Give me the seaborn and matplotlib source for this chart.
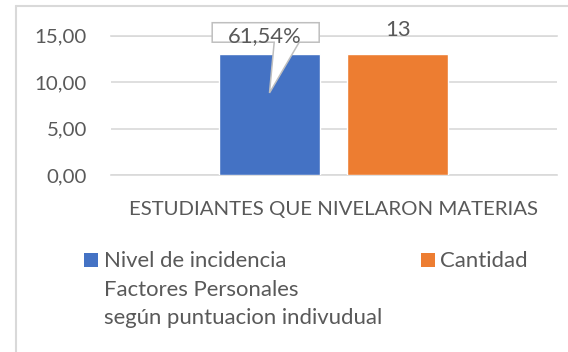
import matplotlib
matplotlib.use("Agg")
import matplotlib.pyplot as plt
import matplotlib.transforms as mtransforms
from matplotlib.patches import Polygon, Rectangle
from matplotlib.lines import Line2D
from matplotlib.ticker import FuncFormatter
import pandas as pd
import seaborn as sns

# ---- datos ----
categorias = ["ESTUDIANTES QUE NIVELARON MATERIAS"]
series = ["Nivel de incidencia\nFactores Personales\nsegún puntuacion indivudual", "Cantidad"]
nivel_incidencia = [13]
cantidad = [13]
porcentaje_nivel = [61.54]
y_ticks = [0, 5, 10, 15]
colores = ["#4472C4", "#ED7D31"]

# ---- estilo ----
sns.set_style("white")
plt.rcParams["font.family"] = ["Lato", "DejaVu Sans"]
TEXTO = "#595959"
GRIS = "#D9D9D9"
FS = 14.7          # ejes
FS_ETIQ = 15.8     # etiquetas de datos
FS_LEY = 15.9      # leyenda

df = pd.DataFrame({
    "categoria": categorias * 2,
    "serie": [series[0]] * len(categorias) + [series[1]] * len(categorias),
    "valor": nivel_incidencia + cantidad,
})

W, H = 568, 352
fig = plt.figure(figsize=(W / 100, H / 100), dpi=100)
ax = fig.add_axes([110.5 / W, 1 - 175 / H, 446 / W, (175 - 35.7) / H])

sns.barplot(data=df, x="categoria", y="valor", hue="serie", hue_order=series,
            palette=colores, saturation=1, width=0.574, gap=0.218,
            errorbar=None, legend=False, ax=ax, zorder=2)

ax.set_xlim(-0.5, 0.5)
ax.set_ylim(y_ticks[0], y_ticks[-1])
ax.set_yticks(y_ticks)
ax.yaxis.set_major_formatter(FuncFormatter(lambda v, p: f"{v:.2f}".replace(".", ",")))
ax.yaxis.grid(True, color=GRIS, lw=1.2)
ax.set_axisbelow(True)
for side in ("left", "right"):
    ax.spines[side].set_visible(False)
for side in ("top", "bottom"):
    ax.spines[side].set_color(GRIS)
    ax.spines[side].set_linewidth(1.2)
    ax.spines[side].set_zorder(1)
ax.set_xlabel("")
ax.set_ylabel("")
ax.tick_params(axis="y", length=0, pad=17, labelsize=FS, labelcolor=TEXTO)
ax.tick_params(axis="x", length=0, pad=19, labelsize=FS, labelcolor=TEXTO)

# etiqueta de valor de la serie "Cantidad"
ax.bar_label(ax.containers[1], labels=[f"{v:g}" for v in cantidad],
             padding=10.2, fontsize=FS_ETIQ, color=TEXTO)

# globo con el porcentaje sobre la serie "Nivel de incidencia"
barra = ax.containers[0].patches[0]
xc = barra.get_x() + barra.get_width() / 2
punta_y = barra.get_height() * 0.68
trans = fig.dpi_scale_trans + mtransforms.ScaledTranslation(xc, punta_y, ax.transData)
px = 1 / fig.dpi
globo = [(0, 0), (29.7, 50.7), (49.7, 50.7), (49.7, 70.2), (-57.3, 70.2),
         (-57.3, 50.7), (4.7, 50.7)]
ax.add_patch(Polygon([(a * px, b * px) for a, b in globo], closed=True,
                     transform=trans, facecolor="white", edgecolor="#BFBFBF",
                     lw=1.1, zorder=5, clip_on=False))
ax.annotate(f"{porcentaje_nivel[0]:.2f}%".replace(".", ","), xy=(xc, punta_y),
            xytext=(-3.1, 36.9), textcoords="offset points", ha="center",
            va="baseline", fontsize=FS_ETIQ, color=TEXTO, zorder=6,
            annotation_clip=False)

# leyenda (una línea de texto por renglón del nombre de la serie)
entradas = [(84, 104.3), (421, 440)]
base_y, paso = 266.7, 28.8
for (xq, xt), nombre, color in zip(entradas, series, colores):
    fig.add_artist(Rectangle((xq / W, 1 - base_y / H), 13.7 / W, 13.7 / H,
                             transform=fig.transFigure, facecolor=color, lw=0))
    for i, linea in enumerate(nombre.split("\n")):
        fig.text(xt / W, 1 - (base_y + i * paso) / H, linea, ha="left",
                 va="baseline", fontsize=FS_LEY, color=TEXTO)

# marco del gráfico
fig.add_artist(Line2D([16 / W, 1.0], [1 - 6 / H, 1 - 6 / H],
                      transform=fig.transFigure, color=GRIS, lw=1.5))
fig.add_artist(Line2D([16 / W, 16 / W], [1 - 6 / H, 0.0],
                      transform=fig.transFigure, color=GRIS, lw=1.5))

fig.savefig("out.png", dpi=100, facecolor="white")
